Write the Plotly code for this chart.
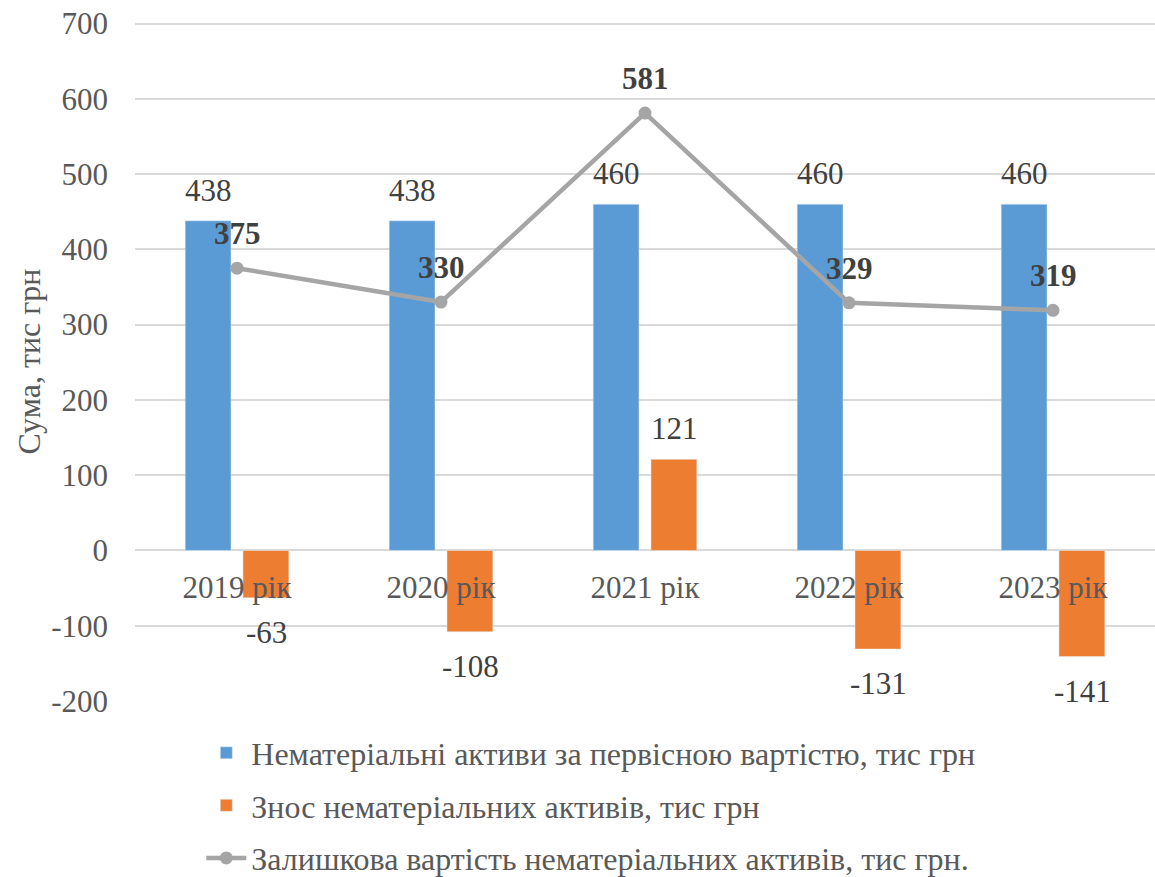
import plotly.graph_objects as go

categories = ["2019 рік", "2020 рік", "2021 рік", "2022 рік", "2023 рік"]
initial_cost = [438, 438, 460, 460, 460]
depreciation = [-63, -108, 121, -131, -141]
residual = [375, 330, 581, 329, 319]
y_ticks = [-200, -100, 0, 100, 200, 300, 400, 500, 600, 700]

names = [
    "Нематеріальні активи за первісною вартістю, тис грн",
    "Знос нематеріальних активів, тис грн",
    "Залишкова вартість нематеріальних активів, тис грн.",
]

FONT = "Liberation Serif, Times New Roman, serif"
BLUE = "#5B9BD5"
ORANGE = "#ED7D31"
GRAY = "#A5A5A5"
TXT = "#404040"
AX = "#595959"
FS = 31

fig = go.Figure()
fig.add_trace(go.Bar(x=categories, y=initial_cost, name=names[0], marker_color=BLUE,
                     legendgroup="a"))
fig.add_trace(go.Bar(x=categories, y=depreciation, name=names[1], marker_color=ORANGE,
                     legendgroup="b"))
fig.add_trace(go.Scatter(x=categories, y=residual, name=names[2], mode="lines+markers",
                         line=dict(color=GRAY, width=4.5), marker=dict(color=GRAY, size=13),
                         legendgroup="c"))

ann = []
for c, v in zip(categories, initial_cost):
    ann.append(dict(x=c, y=v, xref="x", yref="y", text=str(v), showarrow=False,
                    xshift=-29, yanchor="bottom", yshift=11,
                    font=dict(family=FONT, size=FS, color=TXT)))
for c, v in zip(categories, depreciation):
    if v >= 0:
        ann.append(dict(x=c, y=v, xref="x", yref="y", text=str(v), showarrow=False,
                        xshift=29, yanchor="bottom", yshift=11,
                        font=dict(family=FONT, size=FS, color=TXT)))
    else:
        ann.append(dict(x=c, y=v, xref="x", yref="y", text=str(v), showarrow=False,
                        xshift=29, yanchor="top", yshift=-15,
                        font=dict(family=FONT, size=FS, color=TXT)))
for c, v in zip(categories, residual):
    ann.append(dict(x=c, y=v, xref="x", yref="y", text="<b>%d</b>" % v, showarrow=False,
                    yanchor="bottom", yshift=15,
                    font=dict(family=FONT, size=FS, color=TXT)))

fig.update_layout(
    width=1155, height=877,
    margin=dict(l=135, r=0, t=22, b=176, autoexpand=False),
    paper_bgcolor="white", plot_bgcolor="white",
    barmode="group", bargap=0.433, bargroupgap=0.207,
    font=dict(family=FONT, size=FS, color=AX),
    annotations=ann,
    showlegend=True,
    legend=dict(orientation="v", x=0.065, y=-0.036, xanchor="left", yanchor="top",
                font=dict(family=FONT, size=32, color=AX), tracegroupgap=8,
                itemwidth=40, traceorder="grouped"),
    xaxis=dict(anchor="free", position=200 / 900, showline=False, ticks="",
               showgrid=False, tickfont=dict(family=FONT, size=FS, color=AX),
               ticklabelstandoff=16),
    yaxis=dict(range=[-200, 702], tickvals=y_ticks, ticktext=[str(v) for v in y_ticks],
               showgrid=True, gridcolor="#D9D9D9",
               gridwidth=2, zeroline=False, showline=False, ticks="",
               tickfont=dict(family=FONT, size=FS, color=AX), ticklabelstandoff=26,
               title=dict(text="Сума, тис грн", standoff=0,
                          font=dict(family=FONT, size=32, color=AX))),
)

fig.write_html("out.html", config={"displayModeBar": False},
               post_script="document.body.style.margin='0';")
